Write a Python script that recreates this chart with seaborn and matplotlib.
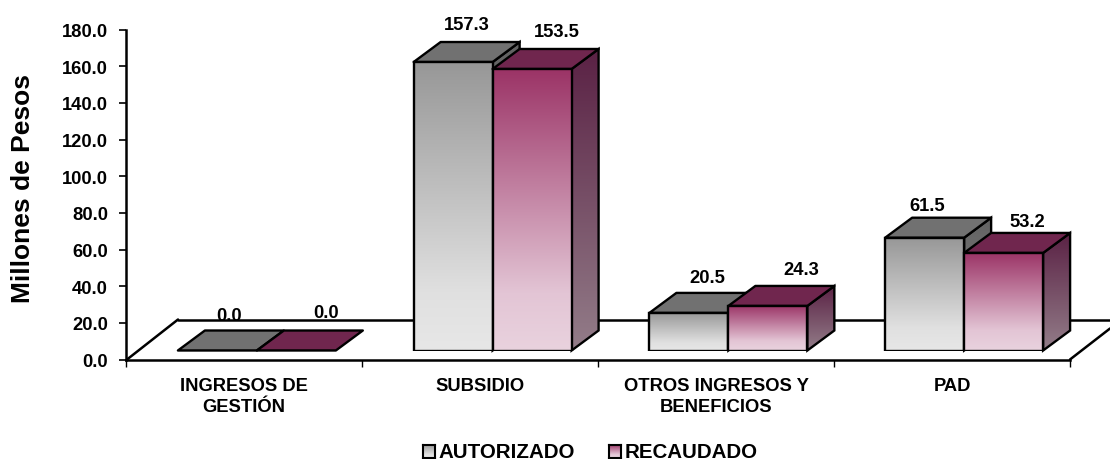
import numpy as np
import pandas as pd
import matplotlib
matplotlib.use('Agg')
import matplotlib.pyplot as plt
from matplotlib.colors import LinearSegmentedColormap
from matplotlib.lines import Line2D
from matplotlib.patches import Polygon
import seaborn as sns

categorias = ['INGRESOS DE\nGESTIÓN', 'SUBSIDIO', 'OTROS INGRESOS Y\nBENEFICIOS', 'PAD']
autorizado = [0.0, 157.3, 20.5, 61.5]
recaudado = [0.0, 153.5, 24.3, 53.2]
series = ['AUTORIZADO', 'RECAUDADO']
ticks_y = [0, 20, 40, 60, 80, 100, 120, 140, 160, 180]

sns.set_theme(style='white')
plt.rcParams['font.family'] = ['Liberation Sans', 'DejaVu Sans']
plt.rcParams['font.weight'] = 'bold'
plt.rcParams['text.color'] = 'black'
plt.rcParams['xtick.labelcolor'] = 'black'
plt.rcParams['ytick.labelcolor'] = 'black'

W, H = 1110, 460
fig = plt.figure(figsize=(W / 100, H / 100), dpi=100)

def caja(x0, ytop, x1, ybottom):
    # caja en pixeles de la imagen -> coordenadas de figura
    return [x0 / W, 1 - ybottom / H, (x1 - x0) / W, (ybottom - ytop) / H]

# colores
front_cmap = [
    LinearSegmentedColormap.from_list('g', [(0, '#979797'), (0.8, '#e0e0e0'), (1, '#e7e7e7')]),
    LinearSegmentedColormap.from_list('m', [(0, '#9b3366'), (0.8, '#e3c5d5'), (1, '#e9d2de')]),
]
side_cmap = [
    LinearSegmentedColormap.from_list('gs', ['#626262', '#8a8a8a']),
    LinearSegmentedColormap.from_list('ms', ['#5a2144', '#937d89']),
]
top_color = ['#717171', '#70264e']

# ejes: escala 0-180 y piso en perspectiva
ax_y = fig.add_axes(caja(126, 30.5, 1070, 360.5))
ax_y.set_xlim(0, 4)
ax_y.set_ylim(0, 180)
ax_y.set_yticks(ticks_y)
ax_y.set_yticklabels([f'{t:.1f}' for t in ticks_y], fontsize=13.2, fontweight='bold')
ax_y.set_xticks(range(5))
ax_y.set_xticklabels([])
ax_y.set_xticks([i + 0.5 for i in range(4)], categorias, minor=True)
ax_y.tick_params(axis='y', length=5, width=1.2, color='black', left=True, pad=8)
ax_y.tick_params(axis='x', which='major', length=5, width=1, color='black', bottom=True)
ax_y.tick_params(axis='x', which='minor', length=0, pad=12.5, labelsize=13.2)
for lab in ax_y.get_xticklabels(minor=True):
    lab.set_fontweight('bold')
    lab.set_linespacing(1.3)
ax_y.spines['top'].set_visible(False)
ax_y.spines['right'].set_visible(False)
ax_y.spines['left'].set_linewidth(1.8)
ax_y.spines['bottom'].set_linewidth(1.8)
ax_y.spines['left'].set_color('black')
ax_y.spines['bottom'].set_color('black')
ax_y.patch.set_alpha(0)
fig.text(23 / W, 1 - 189 / H, 'Millones de Pesos', rotation=90, fontsize=19,
         fontweight='bold', ha='center', va='center')

# lineas del piso
for (xa, ya), (xb, yb) in [((127, 360.5), (178, 320.5)), ((178, 320.5), (1110, 320.5)), ((1070, 360.5), (1110, 329.5))]:
    fig.add_artist(Line2D([xa / W, xb / W], [1 - ya / H, 1 - yb / H], color='black', lw=1.8, zorder=0))

# barras
escala = 1.834  # px por unidad
ax = fig.add_axes(caja(139, 31, 1082, 351.5))
ax.patch.set_alpha(0)
df = pd.DataFrame({
    'categoria': categorias * 2,
    'serie': [series[0]] * 4 + [series[1]] * 4,
    'valor': autorizado + recaudado,
})
sns.barplot(data=df, x='categoria', y='valor', hue='serie', width=0.67, gap=0,
            palette=['#999999', '#9b3366'], edgecolor='black', linewidth=1.7,
            legend=False, ax=ax, errorbar=None)

dx = 27 / (943 / 4)   # profundidad en unidades de categoria
dy = 20 / escala      # profundidad en unidades de valor

# ajuste manual de las etiquetas, en px (como en el original)
nudge = [[(12, 15), (14, 18), (18, 15), (3, 12)],
         [(30, 18), (25, 17), (33, 16), (24, 11)]]

for s, cont in enumerate(ax.containers):
    z = 3 + s * 4
    for i, bar in enumerate(cont):
        x, w, h = bar.get_x(), bar.get_width(), bar.get_height()
        x1 = x + w
        bar.set_facecolor('none')
        bar.set_zorder(z + 3)

        top = Polygon([(x, h), (x1, h), (x1 + dx, h + dy), (x + dx, h + dy)], closed=True,
                      facecolor=top_color[s], edgecolor='black', lw=1.7, joinstyle='round',
                      zorder=z + 1, clip_on=False)
        ax.add_patch(top)

        if h > 0:
            ax.imshow(np.linspace(0, 1, 256)[:, None], cmap=front_cmap[s], aspect='auto',
                      extent=(x, x1, 0, h), zorder=z + 2, interpolation='bilinear')
            lado = Polygon([(x1, 0), (x1 + dx, dy), (x1 + dx, h + dy), (x1, h)], closed=True,
                           facecolor='none', edgecolor='black', lw=1.7, zorder=z, clip_on=False)
            ax.add_patch(lado)
            im = ax.imshow(np.linspace(0, 1, 256)[:, None], cmap=side_cmap[s], aspect='auto',
                           extent=(x1, x1 + dx, 0, h + dy), zorder=z - 0.5, interpolation='bilinear')
            im.set_clip_path(lado)

        nx, ny = nudge[s][i]
        ax.annotate(f'{h:.1f}', (x + w / 2, h + dy), xytext=(nx * 0.72, ny * 0.72),
                    textcoords='offset points', ha='center', va='center',
                    fontsize=13.2, fontweight='bold', color='black', zorder=30,
                    annotation_clip=False)

ax.set_xlim(-0.5, 3.5)
ax.set_ylim(0, 320.5 / escala)
ax.axis('off')

# leyenda
for s, (x0, xt) in enumerate([(422.5, 438), (609, 625)]):
    lg = fig.add_axes(caja(x0, 445.5, x0 + 12, 458.5))
    lg.imshow(np.linspace(0, 1, 64)[:, None], cmap=front_cmap[s], aspect='auto', interpolation='bilinear')
    lg.set_xticks([])
    lg.set_yticks([])
    for sp in lg.spines.values():
        sp.set_visible(True)
        sp.set_color('black')
        sp.set_linewidth(1.5)
    fig.text(xt / W, 1 - 452.5 / H, series[s], fontsize=14.8, fontweight='bold', ha='left', va='center')

fig.savefig('out.png', dpi=100, facecolor='white')
